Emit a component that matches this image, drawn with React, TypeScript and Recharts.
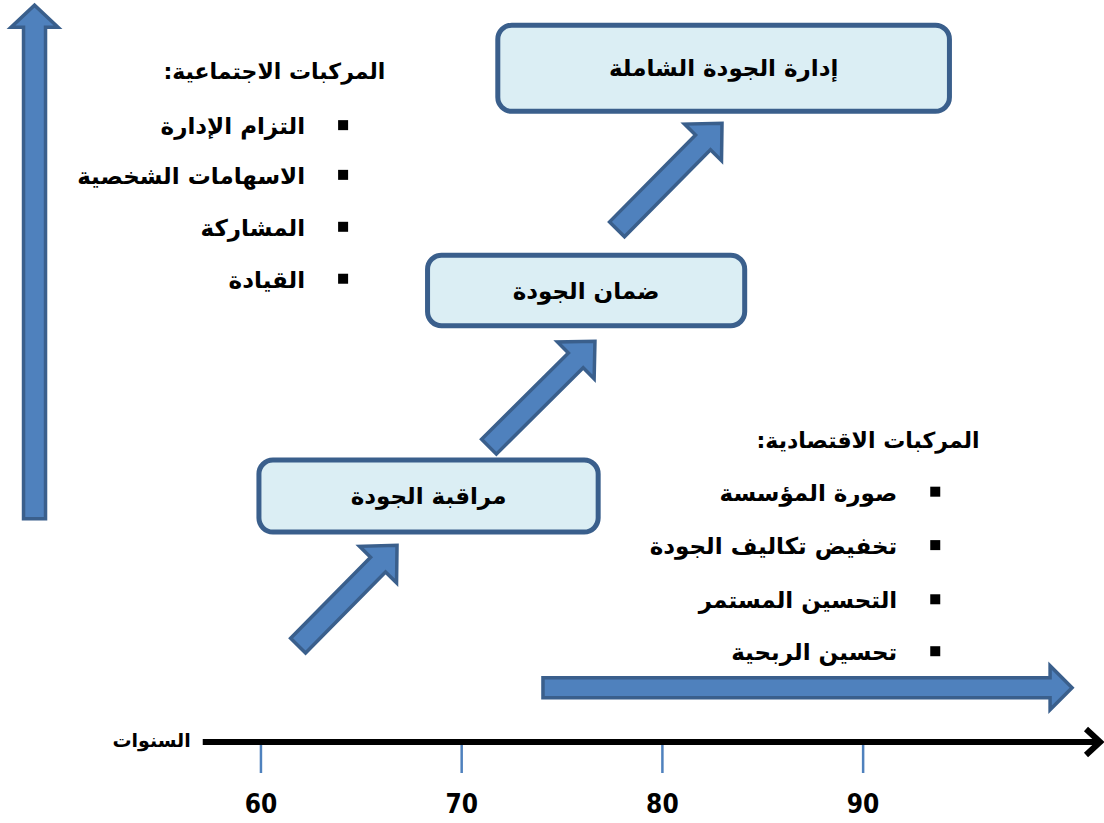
import React from "react";
import {
  ComposedChart,
  XAxis,
  YAxis,
  Scatter,
  ReferenceArea,
  ReferenceLine,
} from "recharts";

// horizontal axis: years
const years = [60, 70, 80, 90];
const axisName = "السنوات";
const axisStart = [57.1, 0];
const axisEnd = [101.95, 0];
const axisNamePos = [56.5, 0.3];

// the three stages (boxes), x in years, y in "level" 0..100
const stages = ["مراقبة الجودة", "ضمان الجودة", "إدارة الجودة الشاملة"];
const stageFrom = [59.9, 68.3, 71.8];
const stageTo = [76.8, 84.1, 94.3];
const stageBottom = [28.3, 56.1, 85.0];
const stageTop = [38.0, 65.6, 96.6];

// step arrows between stages: tail -> tip
const stepTail = [
  [61.85, 13.0],
  [71.36, 39.8],
  [77.74, 69.1],
];
const stepTip = [
  [66.78, 26.5],
  [76.64, 54.0],
  [82.97, 83.4],
];

// social components (left, with vertical arrow)
const socialTitle = "المركبات الاجتماعية:";
const socialTitlePos = [66.2, 90.3];
const socialItems = ["التزام الإدارة", "الاسهامات الشخصية", "المشاركة", "القيادة"];
const socialX = 62.2;
const socialLevels = [83.0, 76.3, 69.3, 62.3];
const socialArrow = [
  [48.72, 30.1],
  [48.72, 99.3],
];

// economic components (right, with horizontal arrow)
const economicTitle = "المركبات الاقتصادية:";
const economicTitlePos = [95.8, 40.7];
const economicItems = ["صورة المؤسسة", "تخفيض تكاليف الجودة", "التحسين المستمر", "تحسين الربحية"];
const economicX = 91.7;
const economicLevels = [33.6, 26.4, 19.1, 12.1];
const economicArrow = [
  [74.05, 7.3],
  [100.41, 7.3],
];

const arabicFont = "'DejaVu Sans', 'Noto Sans', sans-serif";
const blue = "#4f81bd";
const darkBlue = "#3a5f8c";

const titleData = [
  { x: socialTitlePos[0], y: socialTitlePos[1], label: socialTitle },
  { x: economicTitlePos[0], y: economicTitlePos[1], label: economicTitle },
  { x: axisNamePos[0], y: axisNamePos[1], label: axisName, small: true },
];
const itemData = [
  ...socialItems.map((label, i) => ({ x: socialX, y: socialLevels[i], label })),
  ...economicItems.map((label, i) => ({ x: economicX, y: economicLevels[i], label })),
];

function blockArrow(shaft: number, headW: number, headL: number) {
  return (p: any) => {
    const { x1, y1, x2, y2 } = p;
    const dx = x2 - x1;
    const dy = y2 - y1;
    const len = Math.hypot(dx, dy) || 1;
    const ux = dx / len;
    const uy = dy / len;
    const nx = -uy;
    const ny = ux;
    const bx = x2 - ux * headL;
    const by = y2 - uy * headL;
    const pts = [
      [x1 + (nx * shaft) / 2, y1 + (ny * shaft) / 2],
      [bx + (nx * shaft) / 2, by + (ny * shaft) / 2],
      [bx + (nx * headW) / 2, by + (ny * headW) / 2],
      [x2, y2],
      [bx - (nx * headW) / 2, by - (ny * headW) / 2],
      [bx - (nx * shaft) / 2, by - (ny * shaft) / 2],
      [x1 - (nx * shaft) / 2, y1 - (ny * shaft) / 2],
    ];
    return (
      <polygon
        points={pts.map((q) => q.join(",")).join(" ")}
        fill={blue}
        stroke={darkBlue}
        strokeWidth={3.5}
        strokeLinejoin="miter"
      />
    );
  };
}

const axisShape = (p: any) => {
  const { x1, y1, x2, y2 } = p;
  return (
    <g>
      <line x1={x1} y1={y1} x2={x2 - 3} y2={y2} stroke="#000" strokeWidth={6} />
      <polyline
        points={`${x2 - 17},${y2 - 13} ${x2 - 3},${y2} ${x2 - 17},${y2 + 13}`}
        fill="none"
        stroke="#000"
        strokeWidth={6}
      />
    </g>
  );
};

const boxShape = (p: any) => (
  <rect
    x={p.x}
    y={p.y}
    width={p.width}
    height={p.height}
    rx={14}
    ry={14}
    fill="#dbeef4"
    stroke={darkBlue}
    strokeWidth={5}
  />
);

const YearTick = (p: any) => {
  const { x, y, payload } = p;
  return (
    <g>
      <line x1={x} y1={y + 3} x2={x} y2={y + 31} stroke={blue} strokeWidth={2.5} />
      <text
        x={x}
        y={y + 71}
        textAnchor="middle"
        fontFamily="'Liberation Sans Narrow', 'DejaVu Sans Condensed', sans-serif"
        fontWeight="bold"
        fontSize={26}
        fill="#000"
      >
        {payload.value}
      </text>
    </g>
  );
};

const titleShape = (p: any) => (
  <text
    x={p.cx}
    y={p.cy}
    direction="rtl"
    textAnchor="start"
    dominantBaseline="central"
    fontFamily={arabicFont}
    fontWeight="bold"
    fontSize={p.payload.small ? 19 : 22}
    fill="#000"
  >
    {p.payload.label}
  </text>
);

const itemShape = (p: any) => (
  <g>
    <rect x={p.cx + 33} y={p.cy - 6} width={10} height={10} fill="#000" />
    <text
      x={p.cx}
      y={p.cy}
      direction="rtl"
      textAnchor="start"
      dominantBaseline="central"
      fontFamily={arabicFont}
      fontWeight="bold"
      fontSize={23}
      fill="#000"
    >
      {p.payload.label}
    </text>
  </g>
);

export default function App() {
  return (
    <div style={{ position: "absolute", left: 0, top: 0, width: 1104, height: 823, background: "#fff" }}>
      <ComposedChart width={1104} height={823} margin={{ top: 0, right: 0, bottom: 0, left: 0 }}>
        <XAxis
          type="number"
          dataKey="x"
          domain={[47, 102]}
          ticks={years}
          axisLine={false}
          tickLine={false}
          tickSize={0}
          tickMargin={0}
          height={81}
          tick={<YearTick />}
          interval={0}
        />
        <YAxis type="number" dataKey="y" domain={[0, 100]} hide />

        {stages.map((name, i) => (
          <ReferenceArea
            key={name}
            x1={stageFrom[i]}
            x2={stageTo[i]}
            y1={stageBottom[i]}
            y2={stageTop[i]}
            shape={boxShape}
            label={{
              value: name,
              position: "center",
              fill: "#000",
              fontSize: 23,
              fontWeight: "bold",
              fontFamily: arabicFont,
            }}
          />
        ))}

        {stepTail.map((t, i) => (
          <ReferenceLine
            key={"step" + i}
            segment={[
              { x: t[0], y: t[1] },
              { x: stepTip[i][0], y: stepTip[i][1] },
            ]}
            shape={blockArrow(21, 52, 27)}
          />
        ))}

        <ReferenceLine
          segment={[
            { x: socialArrow[0][0], y: socialArrow[0][1] },
            { x: socialArrow[1][0], y: socialArrow[1][1] },
          ]}
          shape={blockArrow(22, 47, 22)}
        />
        <ReferenceLine
          segment={[
            { x: economicArrow[0][0], y: economicArrow[0][1] },
            { x: economicArrow[1][0], y: economicArrow[1][1] },
          ]}
          shape={blockArrow(20, 44, 22)}
        />
        <ReferenceLine
          segment={[
            { x: axisStart[0], y: axisStart[1] },
            { x: axisEnd[0], y: axisEnd[1] },
          ]}
          shape={axisShape}
        />

        <Scatter data={titleData} dataKey="y" shape={titleShape} isAnimationActive={false} />
        <Scatter data={itemData} dataKey="y" shape={itemShape} isAnimationActive={false} />
      </ComposedChart>
    </div>
  );
}
